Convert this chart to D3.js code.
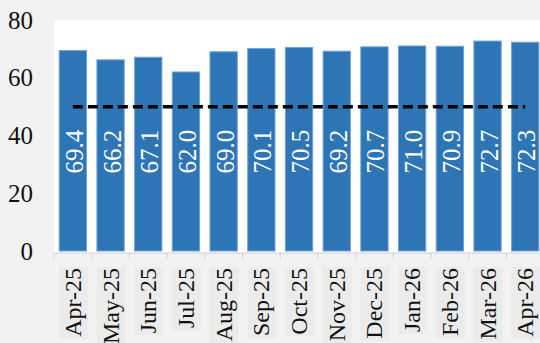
<!DOCTYPE html>
<html>
<head>
    <title>Monthly bars</title>
    <style>
        body { margin: 0; background: #f2f2f2; }
        svg { display: block; }
    </style>
</head>
<body>
    <svg id="chart" width="540" height="343"></svg>
    <script src="https://d3js.org/d3.v7.min.js"></script>
    <script>
        // Data
        const months = ["Apr-25", "May-25", "Jun-25", "Jul-25", "Aug-25", "Sep-25", "Oct-25",
                        "Nov-25", "Dec-25", "Jan-26", "Feb-26", "Mar-26", "Apr-26"];
        const values = [69.4, 66.2, 67.1, 62.0, 69.0, 70.1, 70.5, 69.2, 70.7, 71.0, 70.9, 72.7, 72.3];
        const threshold = months.map(() => 50);
        const yTicks = [0, 20, 40, 60, 80];

        const svg = d3.select("#chart");
        const font = "'Liberation Serif', 'DejaVu Serif', serif";

        // Scales
        const step = 37.7;
        const x = d3.scaleBand()
            .domain(months)
            .range([54, 54 + step * months.length])
            .paddingInner(0.276)
            .paddingOuter(0.138);
        const y = d3.scaleLinear().domain([0, 80]).range([251, 20]);

        // Plot area
        svg.append("rect")
            .attr("x", 54).attr("y", 20)
            .attr("width", 540 - 54).attr("height", 253 - 20)
            .attr("fill", "#ffffff");

        // Bars
        svg.append("g")
            .selectAll("rect")
            .data(values)
            .enter().append("rect")
            .attr("x", (d, i) => x(months[i]))
            .attr("y", d => y(d))
            .attr("width", x.bandwidth())
            .attr("height", d => y(0) - y(d))
            .attr("fill", "#2e75b6")
            .attr("stroke", "#6ea3d9")
            .attr("stroke-width", 1);

        // Value labels inside bars
        svg.append("g")
            .selectAll("text")
            .data(values)
            .enter().append("text")
            .attr("transform", (d, i) => `translate(${x(months[i]) + x.bandwidth() / 2 + 1.5},173.5) rotate(-90)`)
            .attr("dominant-baseline", "central")
            .attr("fill", "#ffffff")
            .attr("font-family", font)
            .attr("font-size", 25)
            .text(d => d.toFixed(1));

        // Threshold line at 50
        const line = d3.line()
            .x((d, i) => x(months[i]) + x.bandwidth() / 2)
            .y(d => y(d));
        svg.append("path")
            .datum(threshold)
            .attr("d", line)
            .attr("fill", "none")
            .attr("stroke", "#000000")
            .attr("stroke-width", 3.5)
            .attr("stroke-dasharray", "10,5");

        // X axis: line and tick marks at category boundaries
        const xAxis = svg.append("g");
        xAxis.append("line")
            .attr("x1", 54).attr("x2", 540)
            .attr("y1", 253).attr("y2", 253)
            .attr("stroke", "#d0d0d0");
        xAxis.selectAll(".tick")
            .data(months)
            .enter().append("line")
            .attr("x1", d => x(d) - x.step() * x.paddingInner() / 2)
            .attr("x2", d => x(d) - x.step() * x.paddingInner() / 2)
            .attr("y1", 253).attr("y2", 259)
            .attr("stroke", "#d0d0d0");

        // X labels with faint boxes behind them
        const xl = xAxis.selectAll(".lab")
            .data(months)
            .enter().append("g")
            .attr("transform", d => `translate(${x(d) + x.bandwidth() / 2},268) rotate(-90)`);
        const box = xl.append("rect")
            .attr("y", -14)
            .attr("height", 29)
            .attr("fill", "#ebebeb");
        const xt = xl.append("text")
            .attr("text-anchor", "end")
            .attr("dominant-baseline", "central")
            .attr("fill", "#111")
            .attr("font-family", font)
            .attr("font-size", 24)
            .text(d => d);
        xt.each(function (d, i) {
            const w = this.getComputedTextLength();
            d3.select(box.nodes()[i]).attr("x", -w - 2).attr("width", w + 3);
        });

        // Y labels
        svg.append("g")
            .selectAll("text")
            .data(yTicks)
            .enter().append("text")
            .attr("x", 33)
            .attr("y", d => y(d))
            .attr("text-anchor", "end")
            .attr("dominant-baseline", "central")
            .attr("fill", "#111")
            .attr("font-family", font)
            .attr("font-size", 25)
            .text(d => d);
    </script>
</body>
</html>
